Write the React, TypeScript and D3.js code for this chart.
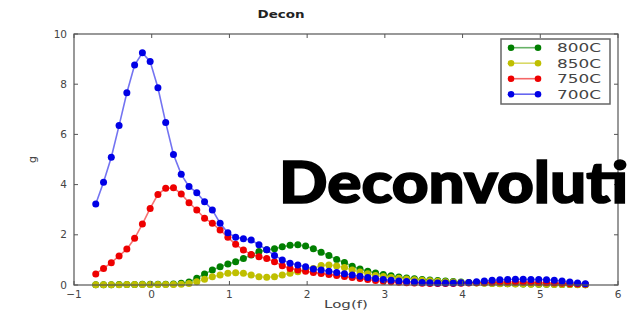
import * as d3 from 'd3';

// log(f) grid shared by every curve
const logF = [
  -0.72, -0.62, -0.52, -0.42, -0.32, -0.22, -0.12, -0.02, 0.08, 0.18,
  0.28, 0.38, 0.48, 0.58, 0.68, 0.78, 0.88, 0.98, 1.08, 1.18,
  1.28, 1.38, 1.48, 1.58, 1.68, 1.78, 1.88, 1.98, 2.08, 2.18,
  2.28, 2.38, 2.48, 2.58, 2.68, 2.78, 2.88, 2.98, 3.08, 3.18,
  3.28, 3.38, 3.48, 3.58, 3.68, 3.78, 3.88, 3.98, 4.08, 4.18,
  4.28, 4.38, 4.48, 4.58, 4.68, 4.78, 4.88, 4.98, 5.08, 5.18,
  5.28, 5.38, 5.48, 5.58,
];

const g800 = [
  0.01, 0.01, 0.01, 0.02, 0.02, 0.02, 0.03, 0.03, 0.03, 0.03,
  0.04, 0.07, 0.12, 0.27, 0.44, 0.6, 0.73, 0.84, 0.93, 1.06,
  1.2, 1.33, 1.4, 1.44, 1.52, 1.58, 1.6, 1.55, 1.44, 1.3,
  1.18, 1.02, 0.9, 0.75, 0.64, 0.55, 0.48, 0.42, 0.37, 0.32,
  0.28, 0.25, 0.22, 0.2, 0.18, 0.16, 0.14, 0.12, 0.1, 0.09,
  0.08, 0.07, 0.06, 0.05, 0.05, 0.04, 0.04, 0.03, 0.03, 0.03,
  0.02, 0.02, 0.02, 0.01,
];

const g850 = [
  0.01, 0.01, 0.01, 0.01, 0.02, 0.02, 0.02, 0.02, 0.02, 0.02,
  0.02, 0.03, 0.06, 0.13, 0.23, 0.33, 0.4, 0.47, 0.49, 0.47,
  0.4, 0.33, 0.31, 0.33, 0.4, 0.47, 0.53, 0.6, 0.66, 0.78,
  0.8, 0.76, 0.7, 0.6, 0.52, 0.45, 0.38, 0.34, 0.3, 0.27,
  0.24, 0.21, 0.19, 0.17, 0.15, 0.13, 0.12, 0.1, 0.09, 0.08,
  0.07, 0.06, 0.05, 0.05, 0.04, 0.04, 0.03, 0.03, 0.03, 0.02,
  0.02, 0.02, 0.01, 0.01,
];

const g750 = [
  0.44, 0.66, 0.89, 1.16, 1.43, 1.86, 2.43, 3.05, 3.61, 3.85,
  3.87, 3.63, 3.28, 2.99, 2.66, 2.46, 2.19, 1.9, 1.62, 1.39,
  1.22, 1.13, 1.06, 0.93, 0.77, 0.66, 0.6, 0.55, 0.5, 0.46,
  0.42, 0.38, 0.34, 0.3, 0.26, 0.22, 0.18, 0.15, 0.13, 0.11,
  0.09, 0.08, 0.07, 0.06, 0.06, 0.06, 0.06, 0.07, 0.08, 0.09,
  0.1, 0.11, 0.12, 0.12, 0.12, 0.12, 0.11, 0.1, 0.09, 0.08,
  0.07, 0.05, 0.04, 0.03,
];

const g700 = [
  3.23, 4.09, 5.09, 6.35, 7.66, 8.76, 9.25, 8.9, 7.86, 6.47,
  5.2, 4.41, 3.92, 3.68, 3.32, 2.99, 2.46, 2.08, 1.9, 1.84,
  1.79, 1.6, 1.4, 1.18, 1.0, 0.87, 0.8, 0.73, 0.64, 0.6,
  0.55, 0.5, 0.45, 0.4, 0.35, 0.3, 0.26, 0.22, 0.19, 0.16,
  0.14, 0.12, 0.1, 0.09, 0.08, 0.08, 0.08, 0.09, 0.1, 0.13,
  0.16, 0.19, 0.21, 0.22, 0.23, 0.23, 0.22, 0.22, 0.21, 0.19,
  0.16, 0.12, 0.08, 0.05,
];

const seriesNames = ['800C', '850C', '750C', '700C'];
const seriesValues = [g800, g850, g750, g700];
const seriesColors = ['#007f00', '#bfbf00', '#ee0000', '#0000e6'];

const xTicks = [-1, 0, 1, 2, 3, 4, 5, 6];
const yTicks = [0, 2, 4, 6, 8, 10];

const W = 628;
const H = 310;
const left = 74;
const right = 618;
const top = 34;
const bottom = 285;

export default function App() {
  const x = d3.scaleLinear().domain([-1, 6]).range([left, right]);
  const y = d3.scaleLinear().domain([0, 10]).range([bottom, top]);

  const line = d3
    .line<number>()
    .x((_, i) => x(logF[i]))
    .y((d) => y(d));

  const fmt = (v: number) => (v < 0 ? '\u2212' + Math.abs(v) : String(v));

  return (
    <>
      <style>{'body{margin:0}'}</style>
      <svg width={W} height={H} style={{ display: 'block', background: '#fff' }}>
        {/* title */}
        <text
          x={281}
          y={18}
          textAnchor="middle"
          fontFamily="DejaVu Sans"
          fontWeight="bold"
          fontSize={10.5}
          fill="#222"
          textLength={47}
          lengthAdjust="spacingAndGlyphs"
        >
          Decon
        </text>

        {/* curves */}
        {seriesValues.map((vals, s) => (
          <g key={seriesNames[s]}>
            <path d={line(vals)!} fill="none" stroke={seriesColors[s]} strokeOpacity={0.55} strokeWidth={1.6} />
            {vals.map((v, i) => (
              <circle key={i} cx={x(logF[i])} cy={y(v)} r={3.5} fill={seriesColors[s]} />
            ))}
          </g>
        ))}

        {/* frame */}
        <rect x={left} y={top} width={right - left} height={bottom - top} fill="none" stroke="#555" strokeWidth={1.2} />

        {/* x ticks */}
        {xTicks.map((t) => (
          <g key={'x' + t}>
            <line x1={x(t)} x2={x(t)} y1={bottom} y2={bottom - 4} stroke="#555" />
            <line x1={x(t)} x2={x(t)} y1={top} y2={top + 4} stroke="#555" />
            <text
              x={x(t)}
              y={298}
              textAnchor="middle"
              fontFamily="DejaVu Sans"
              fontSize={10.5}
              fill="#444"
            >
              {fmt(t)}
            </text>
          </g>
        ))}

        {/* y ticks */}
        {yTicks.map((t) => (
          <g key={'y' + t}>
            <line x1={left} x2={left + 4} y1={y(t)} y2={y(t)} stroke="#555" />
            <line x1={right} x2={right - 4} y1={y(t)} y2={y(t)} stroke="#555" />
            <text
              x={67}
              y={y(t) + 3.5}
              textAnchor="end"
              fontFamily="DejaVu Sans"
              fontSize={10.5}
              fill="#444"
            >
              {t}
            </text>
          </g>
        ))}

        {/* axis labels */}
        <text
          x={346}
          y={308}
          textAnchor="middle"
          fontFamily="DejaVu Sans"
          fontSize={11}
          fill="#444"
          textLength={44}
          lengthAdjust="spacingAndGlyphs"
        >
          Log(f)
        </text>
        <text
          transform={`translate(36, ${(top + bottom) / 2}) rotate(-90)`}
          textAnchor="middle"
          fontFamily="DejaVu Sans"
          fontSize={11}
          fill="#444"
        >
          g
        </text>

        {/* legend */}
        <rect x={501} y={39} width={109} height={65} fill="#fff" stroke="#666" strokeWidth={1.5} />
        {seriesNames.map((name, s) => {
          const ly = 47.7 + s * 15.5;
          return (
            <g key={'lg' + name}>
              <line x1={511} x2={538} y1={ly} y2={ly} stroke={seriesColors[s]} strokeOpacity={0.6} strokeWidth={1.6} />
              <circle cx={511} cy={ly} r={3.3} fill={seriesColors[s]} />
              <circle cx={538} cy={ly} r={3.3} fill={seriesColors[s]} />
              <text
                x={557}
                y={ly + 4.5}
                fontFamily="DejaVu Sans"
                fontSize={12.5}
                fill="#444"
                textLength={44}
                lengthAdjust="spacingAndGlyphs"
              >
                {name}
              </text>
            </g>
          );
        })}

        {/* overlay caption */}
        <text
          x={279}
          y={203}
          fontFamily="Lato, 'DejaVu Sans'"
          fontWeight={900}
          fontSize={57}
          fill="#000"
          stroke="#000"
          strokeWidth={1.6}
          textLength={349}
          lengthAdjust="spacingAndGlyphs"
        >
          Deconvoluti
        </text>
      </svg>
    </>
  );
}
